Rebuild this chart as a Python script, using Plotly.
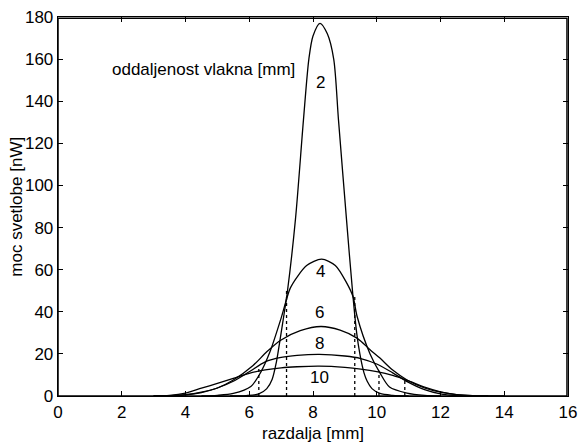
import plotly.graph_objects as go

# Curve data (x in mm, power in nW)
x_d2 = [5.4, 5.9, 6.3, 6.55, 6.72, 6.85, 7.0, 7.2, 7.45, 7.7, 7.87, 8.0, 8.22, 8.45, 8.65, 8.8, 9.05, 9.25, 9.37, 9.47, 9.6, 9.7, 9.85, 10.1, 10.5, 11.0]
y_d2 = [0.0, 0.2, 1.0, 3.5, 8.0, 16.0, 30.0, 50.0, 84.0, 131.0, 160.0, 171.0, 177.0, 172.0, 160.0, 131.0, 84.0, 48.0, 30.0, 20.0, 11.0, 7.0, 3.5, 1.2, 0.3, 0.0]

x_d4 = [4.5, 5.0, 5.5, 6.05, 6.35, 6.65, 7.0, 7.28, 7.5, 7.8, 8.27, 8.7, 9.06, 9.26, 9.38, 9.79, 10.1, 10.4, 10.95, 11.5, 12.0]
y_d4 = [0.0, 0.3, 1.2, 4.5, 11.0, 21.0, 37.0, 51.0, 56.5, 62.0, 65.0, 62.0, 53.6, 47.0, 38.0, 20.0, 11.0, 4.3, 1.4, 0.3, 0.0]

x_d6 = [3.0, 3.5, 4.0, 4.5, 5.0, 5.5, 6.12, 6.55, 7.0, 7.6, 8.25, 8.85, 9.38, 9.79, 10.1, 10.5, 10.95, 11.5, 12.0, 12.5, 13.0, 13.5]
y_d6 = [0.0, 0.1, 0.6, 1.8, 3.8, 7.6, 14.5, 21.0, 26.6, 31.0, 33.0, 31.3, 27.5, 22.0, 18.0, 12.3, 7.6, 3.8, 1.8, 0.7, 0.2, 0.0]

x_d8 = [3.0, 3.5, 4.0, 4.5, 5.0, 5.5, 6.0, 6.5, 7.0, 7.5, 8.2, 9.0, 9.5, 10.0, 10.5, 11.0, 11.5, 12.0, 12.5, 13.0]
y_d8 = [0.0, 0.1, 0.5, 1.6, 3.8, 7.0, 11.5, 16.2, 18.3, 19.3, 19.8, 19.0, 17.8, 15.2, 11.0, 6.5, 3.0, 1.0, 0.2, 0.0]

x_d10 = [3.0, 3.5, 4.0, 4.5, 5.0, 5.5, 6.0, 6.5, 7.0, 7.5, 8.2, 9.0, 9.5, 10.0, 10.5, 11.0, 11.5, 12.0, 12.5, 13.0, 14.0]
y_d10 = [0.0, 0.3, 1.4, 3.7, 6.0, 8.4, 10.8, 12.4, 13.4, 13.9, 14.2, 13.6, 12.8, 11.6, 9.8, 7.2, 4.2, 2.0, 0.7, 0.2, 0.0]

# Dotted vertical markers (x position, top value)
marker_x = [6.3, 7.17, 9.31, 10.07, 10.88]
marker_top = [14.0, 51.0, 48.0, 12.0, 8.0]

curve_labels = ["2", "4", "6", "8", "10"]
label_x = [8.22, 8.25, 8.2, 8.2, 8.2]
label_y = [149, 59, 39.5, 25, 9]

x_ticks = [0, 2, 4, 6, 8, 10, 12, 14, 16]
y_ticks = [0, 20, 40, 60, 80, 100, 120, 140, 160, 180]
x_range = [0, 16]
y_range = [0, 180]

FONT = "Liberation Sans, Arial, Helvetica, sans-serif"
FS = 17

fig = go.Figure()

for xs, ys in [(x_d2, y_d2), (x_d4, y_d4), (x_d6, y_d6), (x_d8, y_d8), (x_d10, y_d10)]:
    fig.add_trace(go.Scatter(x=xs, y=ys, mode="lines",
                             line=dict(color="black", width=1.3, shape="spline", smoothing=0.8),
                             showlegend=False, hoverinfo="skip", cliponaxis=False))

for mx, mt in zip(marker_x, marker_top):
    fig.add_trace(go.Scatter(x=[mx, mx], y=[0, mt], mode="lines",
                             line=dict(color="black", width=1.3, dash="dot"),
                             showlegend=False, hoverinfo="skip"))

for t, lx, ly in zip(curve_labels, label_x, label_y):
    fig.add_annotation(x=lx, y=ly, text=t, showarrow=False,
                       font=dict(family=FONT, size=FS, color="black"))

fig.add_annotation(x=4.56, y=155, text="oddaljenost vlakna [mm]", showarrow=False,
                   font=dict(family=FONT, size=FS, color="black"))

# plot area: 510 x 379 px
fig.add_annotation(xref="paper", yref="paper", x=0.5, y=-0.098, text="razdalja [mm]",
                   showarrow=False, yanchor="middle",
                   font=dict(family=FONT, size=FS, color="black"))
fig.add_annotation(xref="paper", yref="paper", x=-0.082, y=0.5, text="moc svetlobe [nW]",
                   showarrow=False, textangle=-90, xanchor="center", yanchor="middle",
                   font=dict(family=FONT, size=FS, color="black"))

# frame around the axes box, drawn slightly inset so it stays inside the plot area
fig.add_shape(type="rect", xref="paper", yref="paper", x0=0, y0=0, x1=0.998, y1=0.997,
              line=dict(color="black", width=1.5), layer="above")

axis_common = dict(showgrid=False, zeroline=False, showline=True, linecolor="black",
                   linewidth=1.3, mirror="ticks", ticks="inside", ticklen=5,
                   tickcolor="black", tickwidth=1, automargin=False,
                   ticklabeloverflow="allow",
                   tickfont=dict(family=FONT, size=FS, color="black"))

fig.update_xaxes(range=x_range, tickvals=x_ticks, **axis_common)
fig.update_yaxes(range=y_range, tickvals=y_ticks, **axis_common)

fig.update_layout(width=579, height=446,
                  margin=dict(l=58, r=11, t=17, b=50),
                  paper_bgcolor="white", plot_bgcolor="white",
                  font=dict(family=FONT, color="black"))

# remove the browser's default page margin so the figure fills the window exactly
fig.write_html("out.html", config={"displayModeBar": False, "staticPlot": True},
               post_script="document.body.style.margin='0';document.body.style.overflow='hidden';")
